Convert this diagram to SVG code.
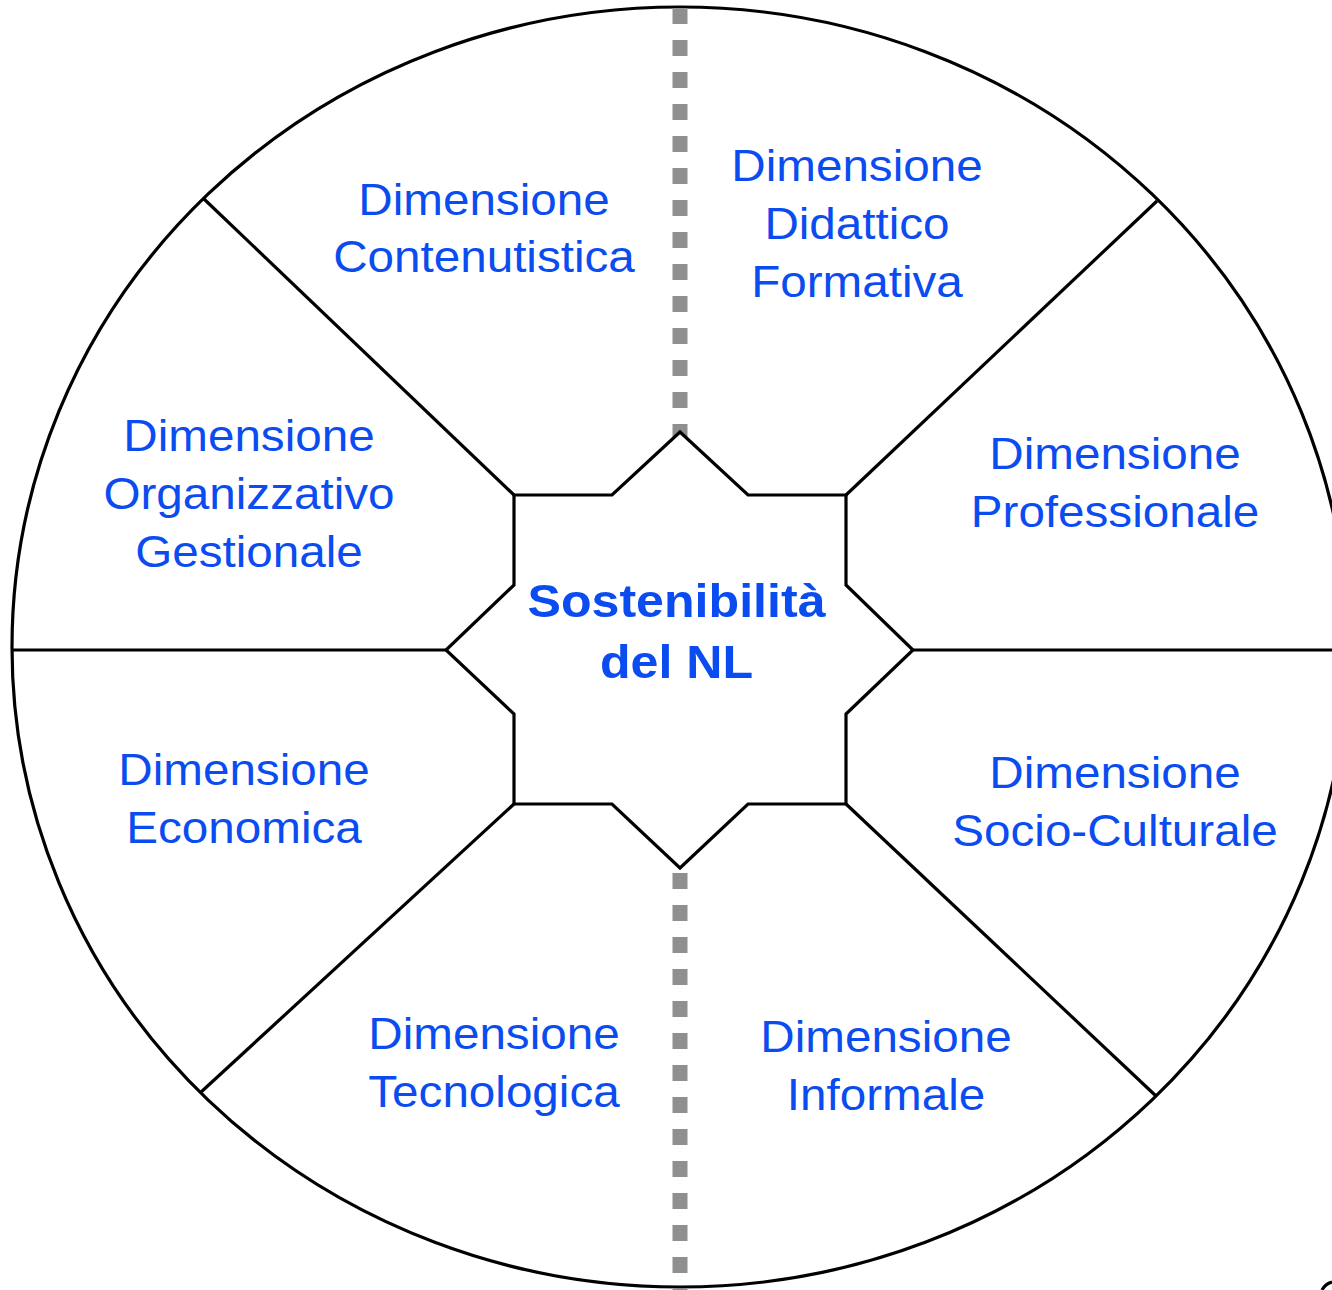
<svg xmlns="http://www.w3.org/2000/svg" width="1332" height="1290" viewBox="0 0 1332 1290">
<style>
.ln{fill:none;stroke:#000;stroke-width:3.2;stroke-linejoin:miter}
.dot{fill:none;stroke:#8f8f8f;stroke-width:15;stroke-dasharray:16 16}
.lbl{font-family:"Liberation Sans",Arial,sans-serif;font-size:44px;fill:#0b4cf0;text-anchor:middle}
.ctr{font-family:"Liberation Sans",Arial,sans-serif;font-size:46px;font-weight:bold;fill:#0b4cf0;text-anchor:middle}
</style>
<rect width="1332" height="1290" fill="#fff"/>
<g id="circle">
<ellipse cx="680" cy="647" rx="668" ry="640" class="ln"/>
</g>
<g id="connectors">
<line x1="680" y1="8" x2="680" y2="440" class="dot"/>
<line x1="680" y1="873" x2="680" y2="1292" class="dot"/>
<line x1="514" y1="495" x2="204" y2="199" class="ln"/>
<line x1="846" y1="495" x2="1157" y2="201" class="ln"/>
<line x1="514" y1="804" x2="200" y2="1093" class="ln"/>
<line x1="846" y1="804" x2="1156" y2="1096" class="ln"/>
<line x1="12" y1="650" x2="446" y2="650" class="ln"/>
<line x1="913" y1="650" x2="1332" y2="650" class="ln"/>
<path d="M1322,1290 Q1325,1284 1332,1282" class="ln"/>
</g>
<g id="center">
<path d="M680,432 L748,495 L846,495 L846,585 L913,650 L846,714 L846,804 L748,804 L680,868 L612,804 L514,804 L514,714 L446,650 L514,585 L514,495 L612,495 Z" class="ln" style="fill:#fff"/>
<g transform="translate(676.5,0) scale(1.09,1)">
<text class="ctr" x="0" y="617">Sostenibilità</text>
<text class="ctr" x="0" y="678">del NL</text>
</g>
</g>
<g id="contenutistica" transform="translate(484,0) scale(1.082,1)">
<text class="lbl" x="0" y="215">Dimensione</text>
<text class="lbl" x="0" y="272">Contenutistica</text>
</g>
<g id="didattico" transform="translate(857,0) scale(1.082,1)">
<text class="lbl" x="0" y="181">Dimensione</text>
<text class="lbl" x="0" y="239">Didattico</text>
<text class="lbl" x="0" y="297">Formativa</text>
</g>
<g id="organizzativo" transform="translate(249,0) scale(1.082,1)">
<text class="lbl" x="0" y="451">Dimensione</text>
<text class="lbl" x="0" y="509">Organizzativo</text>
<text class="lbl" x="0" y="567">Gestionale</text>
</g>
<g id="professionale" transform="translate(1115,0) scale(1.082,1)">
<text class="lbl" x="0" y="469">Dimensione</text>
<text class="lbl" x="0" y="527">Professionale</text>
</g>
<g id="economica" transform="translate(244,0) scale(1.082,1)">
<text class="lbl" x="0" y="785">Dimensione</text>
<text class="lbl" x="0" y="843">Economica</text>
</g>
<g id="socioculturale" transform="translate(1115,0) scale(1.082,1)">
<text class="lbl" x="0" y="788">Dimensione</text>
<text class="lbl" x="0" y="846">Socio-Culturale</text>
</g>
<g id="tecnologica" transform="translate(494,0) scale(1.082,1)">
<text class="lbl" x="0" y="1049">Dimensione</text>
<text class="lbl" x="0" y="1107">Tecnologica</text>
</g>
<g id="informale" transform="translate(886,0) scale(1.082,1)">
<text class="lbl" x="0" y="1052">Dimensione</text>
<text class="lbl" x="0" y="1110">Informale</text>
</g>
</svg>
